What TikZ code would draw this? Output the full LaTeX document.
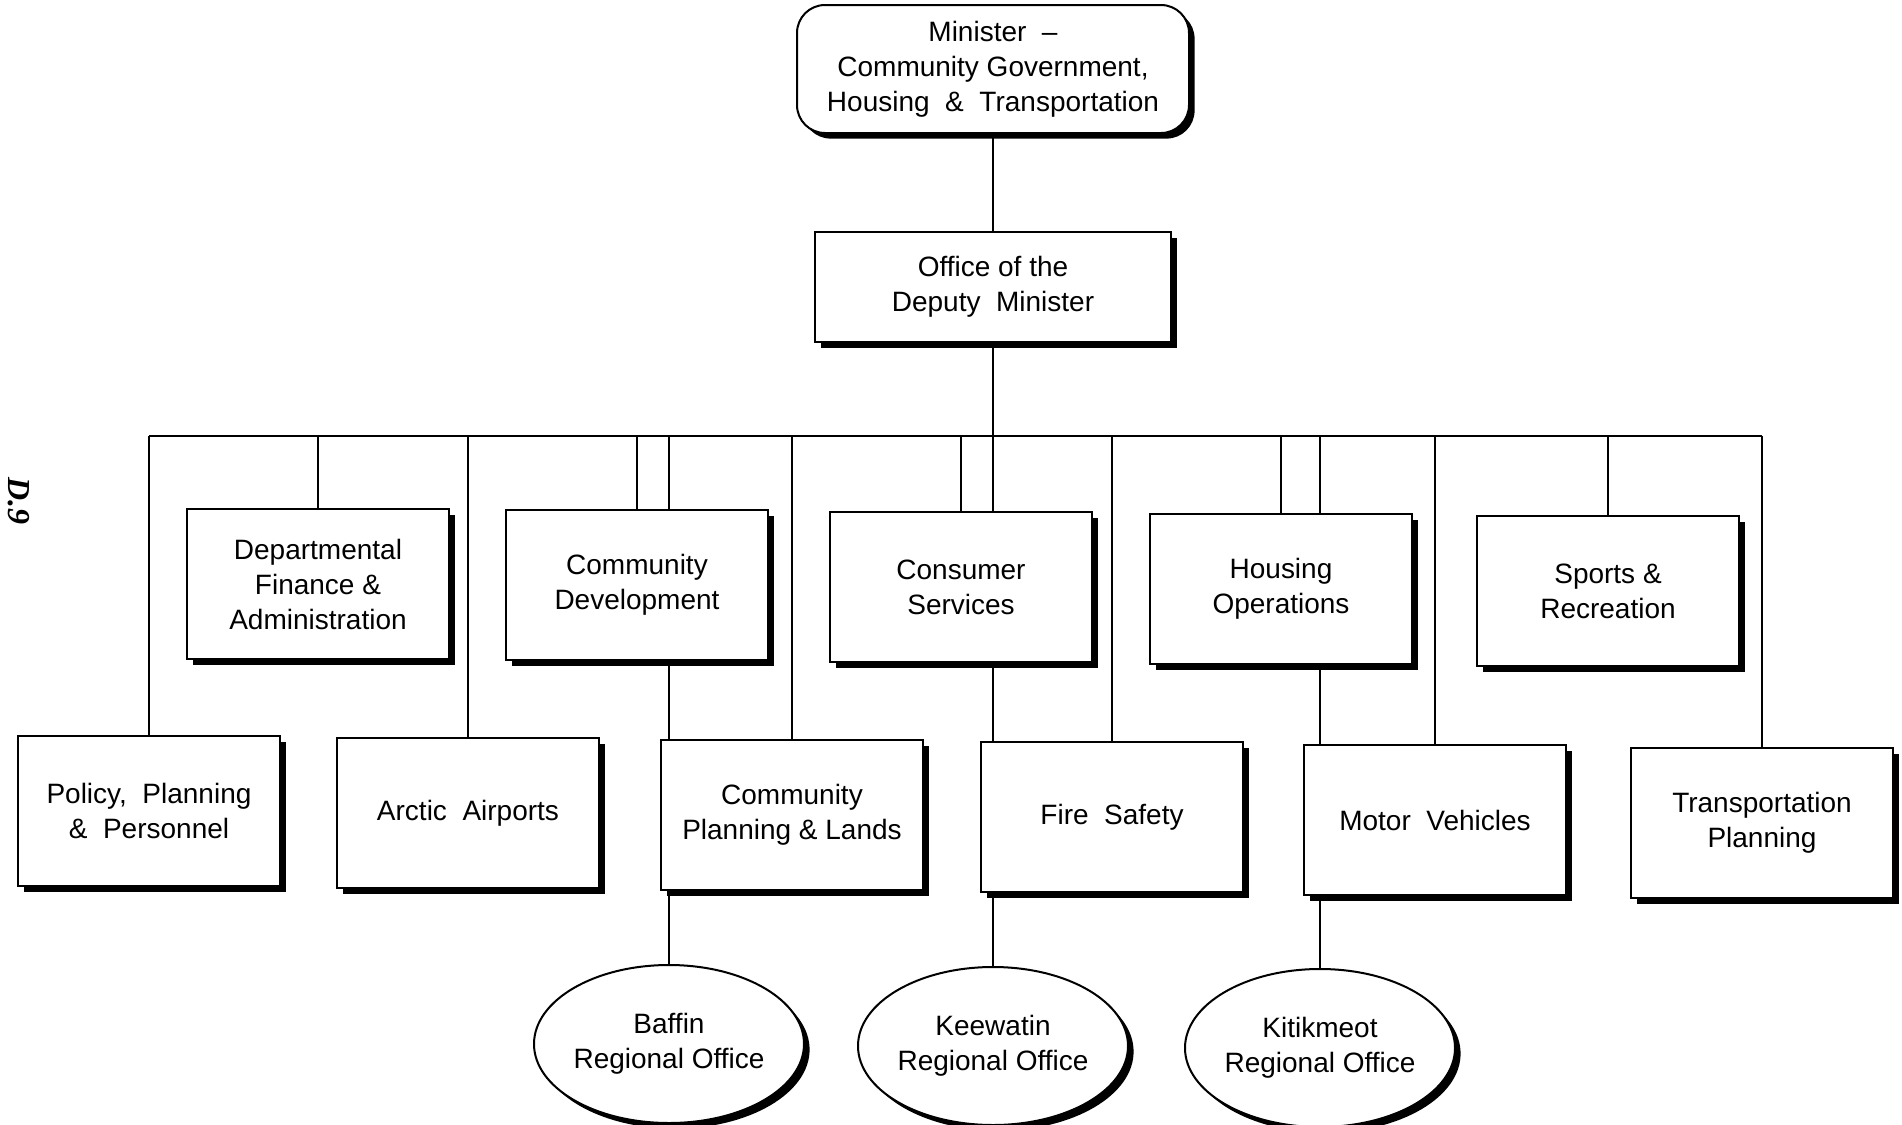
\documentclass[tikz,border=0pt]{standalone}
\usepackage{fontspec}
\setmainfont{Liberation Sans}
\newfontfamily\pagefont{Liberation Serif}
\usetikzlibrary{shapes.geometric,shadows,backgrounds}

\tikzset{
  unit/.style={draw=black, fill=white, line width=1pt, align=center,
    font=\fontsize{14}{17.5}\selectfont,
    general shadow={fill=black, shadow xshift=2.8pt, shadow yshift=-2.8pt}},
  unitbox/.style={unit, rectangle, minimum width=131pt, minimum height=75pt, inner sep=0pt},
  headbox/.style={unit, rectangle, rounded corners=14pt, minimum width=196pt, minimum height=64pt, inner sep=0pt},
  deputybox/.style={unit, rectangle, minimum width=178pt, minimum height=55pt, inner sep=0pt},
  region/.style={unit, ellipse, minimum width=134pt, minimum height=79pt, inner sep=0pt},
  link/.style={draw=black, line width=0.65pt}
}

\begin{document}
\begin{tikzpicture}[x=0.5pt, y=-0.5pt]
  \useasboundingbox (0,0) rectangle (1902,1125);

  % page number at the left margin
  \node[font=\pagefont\bfseries\itshape\fontsize{16}{16}\selectfont, rotate=-90] (pagenum) at (19,501) {D.9};

  % top of the chart
  \node[headbox] (minister) at (993,69) {Minister \ --\\Community Government,\\Housing \ \& \ Transportation};
  \node[deputybox] (deputy) at (993,287) {Office of the\\Deputy \ Minister};

  % upper row of divisions
  \node[unitbox] (finance)   at (318,584)  {Departmental\\Finance \&\\Administration};
  \node[unitbox] (commdev)   at (637,585)  {Community\\Development};
  \node[unitbox] (consumer)  at (961,587)  {Consumer\\Services};
  \node[unitbox] (housing)   at (1281,589) {Housing\\Operations};
  \node[unitbox] (sports)    at (1608,591) {Sports \&\\Recreation};

  % lower row of divisions
  \node[unitbox] (policy)    at (149,811)  {Policy, \ Planning\\\& \ Personnel};
  \node[unitbox] (airports)  at (468,813)  {Arctic \ Airports};
  \node[unitbox] (planning)  at (792,815)  {Community\\Planning \& Lands};
  \node[unitbox] (fire)      at (1112,817) {Fire \ Safety};
  \node[unitbox] (motor)     at (1435,820) {Motor \ Vehicles};
  \node[unitbox] (transport) at (1762,823) {Transportation\\Planning};

  % regional offices
  \node[region] (baffin)    at (669,1044)  {Baffin\\Regional Office};
  \node[region] (keewatin)  at (993,1046)  {Keewatin\\Regional Office};
  \node[region] (kitikmeot) at (1320,1048) {Kitikmeot\\Regional Office};

  \coordinate (bus) at (0,436);

  \begin{scope}[on background layer]
    \draw[link] (minister.south) -- (deputy.north);
    \draw[link] (deputy.south) -- (keewatin.north);
    \draw[link] (policy.north |- bus) -- (transport.north |- bus);
    \foreach \n in {policy, finance, airports, commdev, planning, consumer,
                    fire, housing, motor, sports, transport}
      \draw[link] (\n.north |- bus) -- (\n.north);
    \draw[link] (baffin.north |- bus) -- (baffin.north);
    \draw[link] (kitikmeot.north |- bus) -- (kitikmeot.north);
  \end{scope}
\end{tikzpicture}
\end{document}
